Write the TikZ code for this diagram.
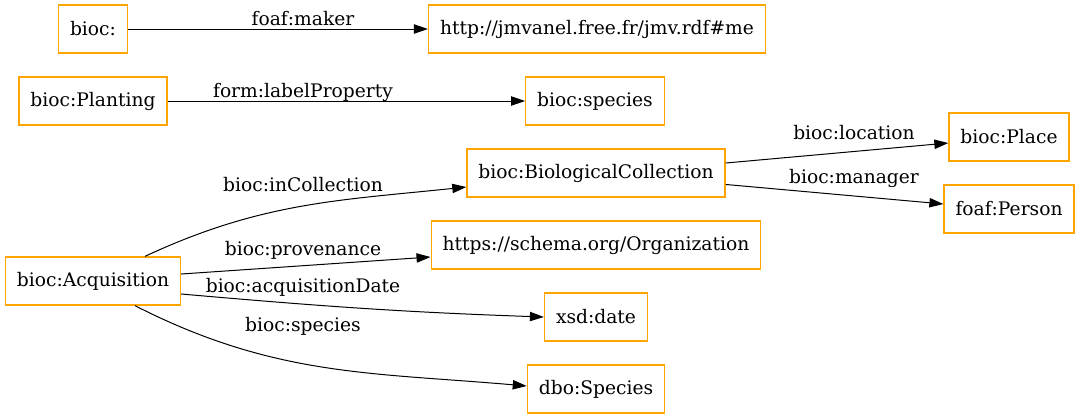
\documentclass[tikz,border=0pt]{standalone}
\usepackage{fontspec}
\setmainfont{DejaVu Serif}
\usepackage{tikz}
\usetikzlibrary{arrows.meta}
\usepackage{xcolor}
\definecolor{gvorange}{HTML}{FFA500}
\tikzset{
  term/.style = {draw=gvorange, line width=1pt, rectangle,
                 minimum height=36pt, inner xsep=8.6pt, inner ysep=0pt},
  lbl/.style  = {anchor=base, inner sep=0pt},
  rel/.style  = {-{Triangle[length=10.5pt,width=7pt]}, line width=0.75pt},
}

\begin{document}
\begin{tikzpicture}[x=0.75pt,y=-0.75pt,font=\fontsize{14}{17}\selectfont]
\useasboundingbox (0,0) rectangle (1080,419);
\node[term] (bioc)     at (93,29)   {bioc:};
\node[term] (jmv)      at (597,29)  {http://jmvanel.free.fr/jmv.rdf\#me};
\node[term] (planting) at (93,101)  {bioc:Planting};
\node[term] (pspecies) at (595,101) {bioc:species};
\node[term] (coll)     at (596,173) {bioc:BiologicalCollection};
\node[term] (place)    at (1009,137) {bioc:Place};
\node[term] (person)   at (1009,209) {foaf:Person};
\node[term] (org)      at (596,245) {https://schema.org/Organization};
\node[term] (acq)      at (93,281)  {bioc:Acquisition};
\node[term] (date)     at (596,317) {xsd:date};
\node[term] (dbo)      at (596,389) {dbo:Species};

\draw[rel] (bioc) -- (jmv);
\draw[rel] (planting) -- (pspecies);
\draw[rel] ([xshift=39pt]acq.north) to[out=25,in=186] ([yshift=-10.5pt]coll.west);
\draw[rel] ([yshift=5.25pt]acq.east) -- ([yshift=-9pt]org.west);
\draw[rel] ([yshift=-9.75pt]acq.east) to[out=-5,in=178] (date.west);
\draw[rel] ([xshift=31.5pt]acq.south) to[out=-27,in=175] ([yshift=2.25pt]dbo.west);
\draw[rel] ([yshift=7.5pt]coll.east) -- ([yshift=-4.5pt]place.west);
\draw[rel] ([yshift=-8.6pt]coll.east) -- ([yshift=3.75pt]person.west);

\node[lbl] (l-maker)    at (303,25)  {foaf:maker};
\node[lbl] (l-labprop)  at (303,97)  {form:labelProperty};
\node[lbl] (l-incoll)   at (303,191) {bioc:inCollection};
\node[lbl] (l-prov)     at (303,255) {bioc:provenance};
\node[lbl] (l-acqdate)  at (303,292) {bioc:acquisitionDate};
\node[lbl] (l-species)  at (303,331) {bioc:species};
\node[lbl] (l-location) at (854,139) {bioc:location};
\node[lbl] (l-manager)  at (854,183) {bioc:manager};
\end{tikzpicture}
\end{document}
